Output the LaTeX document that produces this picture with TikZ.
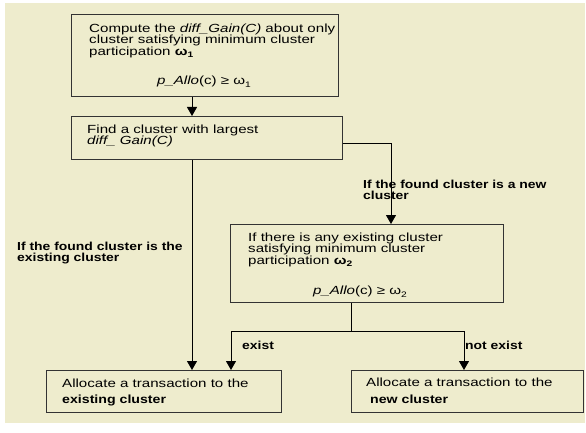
\documentclass[tikz,border=0pt]{standalone}
\usepackage{fontspec}
\setmainfont{Liberation Sans}[FakeStretch=1.28]
\newfontfamily\lblfont{Liberation Sans}[FakeStretch=1.2]
\usetikzlibrary{arrows.meta}
\definecolor{paper}{HTML}{EEECCD}
\definecolor{frame}{HTML}{333333}
% lowered index digit after omega
\newcommand{\idx}[1]{\raisebox{-2.5pt}{\fontsize{8}{8}\selectfont #1}}

\begin{document}
\begin{tikzpicture}[x=1pt,y=-1pt,
  box/.style={draw=frame, line width=1.3pt, fill=paper, inner sep=0pt, anchor=north west},
  body/.style={inner sep=0pt, anchor=north west, align=left, font=\fontsize{11.8}{11.2}\selectfont},
  formula/.style={inner sep=0pt, anchor=north, font=\fontsize{11.8}{11.2}\selectfont},
  cond/.style={inner sep=0pt, anchor=north west, align=left, font=\lblfont\bfseries\fontsize{11.6}{10.5}\selectfont},
  flow/.style={draw=black, line width=0.9pt},
  arr/.style={flow, -{Triangle[width=10pt,length=9pt]}},
]
\useasboundingbox (0,0) rectangle (586,433);
\fill[paper] (5,3) rectangle (585,423);

% helper columns and rows for the connectors
\coordinate (c1) at (192,0);
\coordinate (c2) at (391,0);
\coordinate (c3) at (351,0);
\coordinate (c4) at (231,0);
\coordinate (c5) at (464,0);
\coordinate (r1) at (0,143);
\coordinate (r2) at (0,331);

% boxes
\node[box, minimum width=267pt, minimum height=82pt] (b1) at (71,14) {};
\node[box, minimum width=271pt, minimum height=43pt] (b2) at (71,116) {};
\node[box, minimum width=273pt, minimum height=78pt] (b3) at (230,224) {};
\node[box, minimum width=235pt, minimum height=42pt] (b4) at (46,370) {};
\node[box, minimum width=232pt, minimum height=42pt] (b5) at (351,370) {};

% box texts
\node[body] (t1) at (89,24) {Compute the \textit{diff\_Gain(C)} about only\\cluster satisfying minimum cluster\\participation \textbf{ω\idx{1}}};
\node[formula] (f1) at (204,76) {\textit{p\_Allo}(c) ≥ ω\idx{1}};
\node[body] (t2) at (87,125) {Find a cluster with largest\\\textit{diff\_ Gain(C)}};
\node[body] (t3) at (248,233) {If there is any existing cluster\\satisfying minimum cluster\\participation \textbf{ω\idx{2}}};
\node[formula] (f3) at (360,286) {\textit{p\_Allo}(c) ≥ ω\idx{2}};
\node[body, font=\fontsize{11.8}{16}\selectfont] (t4) at (62,379) {Allocate a transaction to the\\{\lblfont\bfseries existing cluster}};
\node[body, font=\fontsize{11.8}{17}\selectfont] (t5) at (366,378) {Allocate a transaction to the\\\hspace{4pt}{\lblfont\bfseries new cluster}};

% connectors
\draw[arr] (b1.south -| c1) -- (b2.north -| c1);
\draw[arr] (b2.south -| c1) -- (b4.north -| c1);
\draw[arr] (b2.east |- r1) -- (c2 |- r1) -- (b3.north -| c2);
\draw[arr] (b3.south -| c3) -- (c3 |- r2) -| (b4.north -| c4);
\draw[arr] (c3 |- r2) -| (b5.north -| c5);

% branch conditions
\node[cond] (l1) at (17,242) {If the found cluster is the\\existing cluster};
\node[cond] (l2) at (363,180) {If the found cluster is a new\\cluster};
\node[cond] (l3) at (242,341) {exist};
\node[cond] (l4) at (465,341) {not exist};
\end{tikzpicture}
\end{document}
